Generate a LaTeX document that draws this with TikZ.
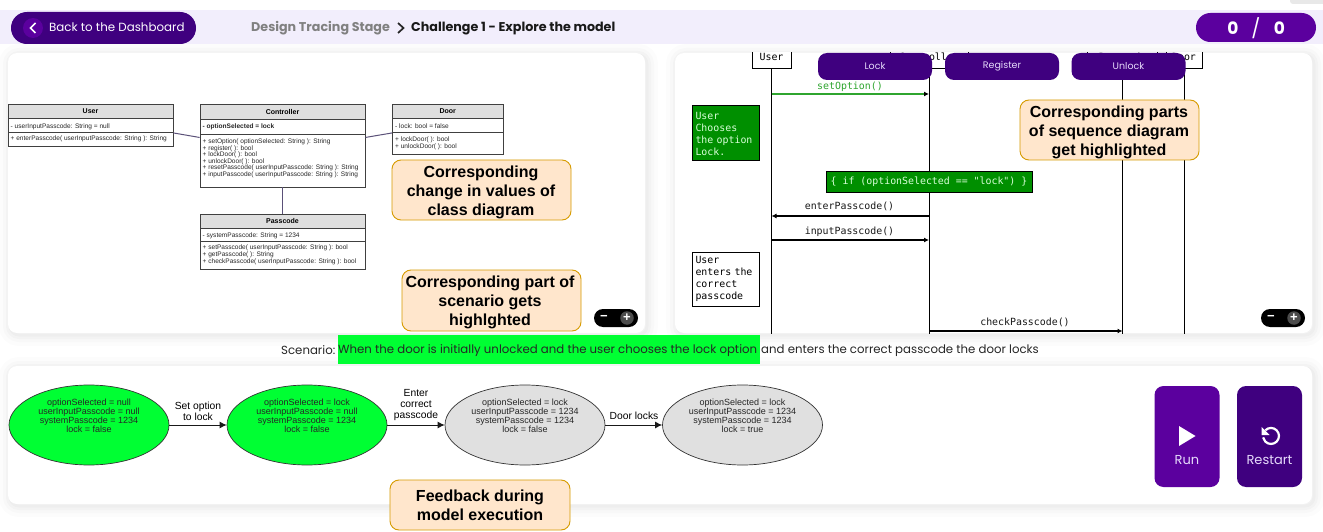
\documentclass[tikz,border=0pt]{standalone}
\usepackage{fontspec}
\setmainfont{Liberation Sans}
\newfontfamily\popfont{Poppins}
\newfontfamily\seqfont{DejaVu Sans Mono}
\usetikzlibrary{arrows.meta,shapes.geometric}
\definecolor{deepPurple}{HTML}{3F007F}
\definecolor{runPurple}{HTML}{5B009E}
\definecolor{bandTint}{HTML}{F2EEFC}
\definecolor{softLilac}{HTML}{E6DAFB}
\definecolor{noteFill}{HTML}{FFE6CC}
\definecolor{noteEdge}{HTML}{D79B00}
\definecolor{liveGreen}{HTML}{00FF33}
\definecolor{darkGreen}{HTML}{008F00}
\definecolor{stateGrey}{HTML}{E0E0E0}
\definecolor{headGrey}{HTML}{DFDFDF}
\definecolor{linkPurple}{HTML}{5A5078}
\definecolor{setGreen}{HTML}{2FA52F}
\tikzset{
    softShadow/.style={
        preaction={draw=black, draw opacity=.010, line width=22, transform canvas={xshift=2pt, yshift=-2pt}},
        preaction={draw=black, draw opacity=.014, line width=14, transform canvas={xshift=2pt, yshift=-2pt}},
        preaction={draw=black, draw opacity=.018, line width=8, transform canvas={xshift=2pt, yshift=-2pt}},
        preaction={draw=black, draw opacity=.02, line width=3, transform canvas={xshift=2pt, yshift=-2pt}}},
    panelStyle/.style={rectangle, fill=white, rounded corners=9, softShadow, inner sep=0},
    topButton/.style={rectangle, fill=deepPurple, rounded corners=9, minimum width=114, minimum height=27, inner sep=0, text=softLilac, font=\popfont\fontsize{9.5}{11}\selectfont},
    runButton/.style={rectangle, rounded corners=9, minimum width=65, minimum height=101, inner sep=0},
    buttonText/.style={inner sep=0, text=softLilac, font=\popfont\fontsize{13}{15}\selectfont},
    noteStyle/.style={rectangle, draw=noteEdge, fill=noteFill, line width=.9, rounded corners=9, minimum width=179, inner sep=0},
    noteText/.style={inner sep=0, align=center, text=black, font=\bfseries\fontsize{16}{19}\selectfont},
    classHead/.style={rectangle, draw=black!75, fill=headGrey, line width=.9, inner sep=0, font=\bfseries\fontsize{7}{8}\selectfont},
    classBody/.style={rectangle, draw=black!75, fill=white, line width=.9, inner sep=0},
    classText/.style={inner sep=0, align=left, anchor=north west, text=black!85, font=\fontsize{6.55}{6.5}\selectfont},
    classWide/.style={classText, font=\fontsize{6.55}{7}\selectfont},
    linkStyle/.style={draw=linkPurple, line width=1},
    stateBody/.style={ellipse, draw=black!80, line width=.7, minimum width=160, minimum height=80, inner sep=0},
    stateText/.style={inner sep=0, align=center, text=black!85, font=\fontsize{9}{9}\selectfont},
    edgeText/.style={inner sep=0, align=center, font=\fontsize{10.3}{11}\selectfont},
    edgeStyle/.style={-{Latex[length=7,width=7]}, line width=1, draw=black!90},
    seqBox/.style={rectangle, draw=black, fill=white, line width=1, inner sep=0, align=left, font=\seqfont\fontsize{9.9}{12}\selectfont},
    seqText/.style={inner sep=0, text=black!90, font=\seqfont\fontsize{9.9}{12}\selectfont},
    seqArrow/.style={-{Latex[length=5,width=5,black]}, line width=1.1, draw=black},
    lifeLine/.style={draw=black, line width=1},
    zoomPill/.style={rectangle, fill=black, rounded corners=9, minimum width=44, minimum height=18, inner sep=0},
    zoomDot/.style={circle, fill=black!70, minimum size=13.5, inner sep=0, text=white, font=\bfseries\fontsize{13}{13}\selectfont},
    zoomMark/.style={inner sep=0, text=white, font=\bfseries\fontsize{13}{13}\selectfont}
}
\begin{document}
\begin{tikzpicture}[x=1pt, y=-1pt]
    \useasboundingbox (0,0) rectangle (1323,532);
    \fill[white] (0,0) rectangle (1323,532);
    \fill[black!9, rounded corners=3] (1290,-4) rectangle (1330,4);

    % top band
    \node[rectangle, fill=bandTint, minimum width=1323, minimum height=34, inner sep=0] (topBand) at (661.5,27) {};
    \node[rectangle, fill=deepPurple, rounded corners=15.9, minimum width=185, minimum height=32, inner sep=0] (backButton) at (103.5,28) {};
    \node[circle, fill=runPurple, minimum size=20, inner sep=0] (backCircle) at (33,28) {};
    \draw[white, line width=1.6] (35.5,23) -- (30.5,28) -- (35.5,33);
    \node[inner sep=0, anchor=west, text=white!92!softLilac, font=\popfont\fontsize{11.85}{14}\selectfont] (backText) at (49,27.5) {Back to the Dashboard};
    \node[inner sep=0, anchor=west, text=black!50, font=\popfont\bfseries\fontsize{12.7}{14}\selectfont] (stageText) at (251,28.5) {Design Tracing Stage};
    \draw[black!85, line width=1.7] (398,23) -- (403.5,28) -- (398,33);
    \node[inner sep=0, anchor=west, text=black!90, font=\popfont\bfseries\fontsize{12.7}{14}\selectfont] (challengeText) at (411,28.5) {Challenge 1 - Explore the model};
    \node[rectangle, fill=runPurple, rounded corners=14.4, minimum width=120, minimum height=29, inner sep=0] (scorePill) at (1256,27.5) {};
    \node[inner sep=0, text=white, font=\popfont\bfseries\fontsize{17}{19}\selectfont] (scoreLeft) at (1233,28) {0};
    \node[inner sep=0, text=white, font=\popfont\fontsize{19}{19}\selectfont] (scoreBar) at (1256,28) {/};
    \node[inner sep=0, text=white, font=\popfont\bfseries\fontsize{17}{19}\selectfont] (scoreRight) at (1279.5,28) {0};

    % panels
    \node[panelStyle, minimum width=637, minimum height=280] (classPanel) at (326.5,193) {};
    \node[panelStyle, minimum width=637, minimum height=280] (seqPanel) at (993.5,193) {};
    \node[panelStyle, minimum width=1304, minimum height=138] (statePanel) at (660,435) {};

    % class diagram
    \node[classHead, minimum width=165, minimum height=14] (user_0) at (90.5,111.5) {User};
    \node[classBody, minimum width=165, minimum height=14] (user_1) at (90.5,125.5) {};
    \node[classBody, minimum width=165, minimum height=13.5] (user_2) at (90.5,139.25) {};
    \node[classText] (user_1t) at (10.5,123.5) {- userInputPasscode: String = null};
    \node[classText] (user_2t) at (10.5,135.5) {+ enterPasscode( userInputPasscode: String ): String};

    \node[classHead, minimum width=165, minimum height=14.5] (ctrl_0) at (282.5,111.75) {Controller};
    \node[classBody, minimum width=165, minimum height=15] (ctrl_1) at (282.5,126.5) {};
    \node[classBody, minimum width=165, minimum height=53] (ctrl_2) at (282.5,160.5) {};
    \node[classText, font=\bfseries\fontsize{6.55}{6.5}\selectfont] (ctrl_1t) at (202.5,124) {- optionSelected = lock};
    \node[classText] (ctrl_2t) at (202.5,139) {+ setOption( optionSelected: String ): String\\+ register( ): bool\\+ lockDoor( ): bool\\+ unlockDoor( ): bool\\+ resetPasscode( userInputPasscode: String ): String\\+ inputPasscode( userInputPasscode: String ): String};

    \node[classHead, minimum width=110.5, minimum height=14] (door_0) at (447.75,111.5) {Door};
    \node[classBody, minimum width=110.5, minimum height=14] (door_1) at (447.75,125.5) {};
    \node[classBody, minimum width=110.5, minimum height=21.5] (door_2) at (447.75,143.25) {};
    \node[classText] (door_1t) at (395,123.5) {- lock: bool = false};
    \node[classWide] (door_2t) at (395,136.5) {+ lockDoor( ): bool\\+ unlockDoor( ): bool};

    \node[classHead, minimum width=165, minimum height=14.5] (pass_0) at (282.5,221.25) {Passcode};
    \node[classBody, minimum width=165, minimum height=13] (pass_1) at (282.5,235) {};
    \node[classBody, minimum width=165, minimum height=28] (pass_2) at (282.5,255.5) {};
    \node[classText] (pass_1t) at (202.5,232.5) {- systemPasscode: String = 1234};
    \node[classWide] (pass_2t) at (202.5,245) {+ setPasscode( userInputPasscode: String ): bool\\+ getPasscode( ): String\\+ checkPasscode( userInputPasscode: String ): bool};

    \draw[linkStyle] (user_1.south east) -- ([yshift=-3pt]ctrl_1.south west);
    \draw[linkStyle] ([yshift=-3pt]ctrl_1.south east) -- (door_1.south west);
    \draw[linkStyle] (ctrl_2.south) -- (pass_0.north);

    % sequence diagram
    \begin{scope}
        \clip (675,53) rectangle (1312,333);
        \node[seqBox, minimum width=39, minimum height=24] (seq_user) at (771.5,57) {User};
        \node[seqBox, minimum width=78, minimum height=24] (seq_ctrl) at (929,57) {Controller};
        \node[seqBox, minimum width=70, minimum height=24] (seq_pass) at (1122.5,57) {Passcode};
        \node[seqBox, minimum width=36, minimum height=24] (seq_door) at (1184,57) {Door};
        \coordinate (user_end) at (771.5,345);
        \coordinate (ctrl_end) at (929,345);
        \coordinate (pass_end) at (1122.5,345);
        \coordinate (door_end) at (1184,345);
        \draw[lifeLine] (seq_user.south) -- (user_end);
        \draw[lifeLine] (seq_ctrl.south) -- (ctrl_end);
        \draw[lifeLine] (seq_pass.south) -- (pass_end);
        \draw[lifeLine] (seq_door.south) -- (door_end);

        \coordinate (opt_a) at (771.5,94);
        \coordinate (opt_b) at (929,94);
        \coordinate (ent_a) at (929,216);
        \coordinate (ent_b) at (771.5,216);
        \coordinate (inp_a) at (771.5,240);
        \coordinate (inp_b) at (929,240);
        \coordinate (chk_a) at (929,331);
        \coordinate (chk_b) at (1122.5,331);
        \draw[seqArrow, draw=setGreen] (opt_a) -- (opt_b);
        \draw[seqArrow] (ent_a) -- (ent_b);
        \draw[seqArrow] (inp_a) -- (inp_b);
        \draw[seqArrow] (chk_a) -- (chk_b);
        \node[seqText, text=setGreen] (opt_t) at (850,86.5) {setOption()};
        \node[seqText] (ent_t) at (849.5,206.5) {enterPasscode()};
        \node[seqText] (inp_t) at (849.5,231.5) {inputPasscode()};
        \node[seqText] (chk_t) at (1025,322.5) {checkPasscode()};

        \node[seqBox, fill=darkGreen, text=green!15, minimum width=67, minimum height=55, text width=60] (opt_note) at (725.5,133.5) {User\\Chooses\\the option\\Lock.};
        \node[seqBox, fill=darkGreen, text=green!15, minimum width=206, minimum height=20, align=center] (if_note) at (929,182) {\{ if (optionSelected == "lock") \}};
        \node[seqBox, minimum width=67, minimum height=54, text width=60] (pw_note) at (725.5,279) {User\\enters the\\correct\\passcode};
    \end{scope}

    \node[topButton] (lockButton) at (875,66.5) {Lock};
    \node[topButton] (registerButton) at (1002,66.5) {Register};
    \node[topButton] (unlockButton) at (1128.5,66.5) {Unlock};

    % zoom controls
    \node[zoomPill] (zoomLeft) at (616,318) {};
    \node[zoomMark] (zoomLeftMinus) at (604,318) {\textminus};
    \node[zoomDot] (zoomLeftPlus) at (627,318) {+};
    \node[zoomPill] (zoomRight) at (1283,318) {};
    \node[zoomMark] (zoomRightMinus) at (1271,318) {\textminus};
    \node[zoomDot] (zoomRightPlus) at (1294,318) {+};

    % scenario
    \node[rectangle, fill=liveGreen, minimum width=422, minimum height=29, inner sep=0] (scenBar) at (549,349.5) {};
    \node[inner sep=0, anchor=west, text=black!85, font=\popfont\fontsize{11.75}{13}\selectfont] (scenLabel) at (281,350.5) {Scenario:};
    \node[inner sep=0, anchor=west, text=black!85, font=\popfont\fontsize{11.75}{13}\selectfont] (scenLive) at (338,350.5) {When the door is initially unlocked and the user chooses the lock option};
    \node[inner sep=0, anchor=west, text=black!85, font=\popfont\fontsize{11.75}{13}\selectfont] (scenRest) at (761,350.5) {and enters the correct passcode the door locks};

    % model execution
    \node[stateBody, fill=liveGreen] (state_1) at (89,425) {};
    \node[stateBody, fill=liveGreen] (state_2) at (307,425) {};
    \node[stateBody, fill=stateGrey] (state_3) at (525,425) {};
    \node[stateBody, fill=stateGrey] (state_4) at (742.5,425) {};
    \node[stateText] (state_1t) at (89,415.5) {optionSelected = null\\userInputPasscode = null\\systemPasscode = 1234\\lock = false};
    \node[stateText] (state_2t) at (307,415.5) {optionSelected = lock\\userInputPasscode = null\\systemPasscode = 1234\\lock = false};
    \node[stateText] (state_3t) at (525,415.5) {optionSelected = lock\\userInputPasscode = 1234\\systemPasscode = 1234\\lock = false};
    \node[stateText] (state_4t) at (742.5,415.5) {optionSelected = lock\\userInputPasscode = 1234\\systemPasscode = 1234\\lock = true};
    \draw[edgeStyle] (state_1) -- (state_2);
    \draw[edgeStyle] (state_2) -- (state_3);
    \draw[edgeStyle] (state_3) -- (state_4);
    \node[edgeText] (edge_1t) at (198,411) {Set option\\to lock};
    \node[edgeText] (edge_2t) at (416,405.5) {Enter\\correct\\passcode};
    \node[edgeText] (edge_3t) at (634,415.5) {Door locks};

    % buttons
    \node[runButton, fill=runPurple] (runButton) at (1187,436.5) {};
    \node[runButton, fill=deepPurple] (restartButton) at (1269.5,436.5) {};
    \fill[white] (1179,426) -- (1195.5,436) -- (1179,446) -- cycle;
    \draw[white, line width=2.2] (1265.3,430.3) arc[start angle=225, end angle=530, radius=8];
    \fill[white] (1261.5,427) -- (1261.5,435) -- (1269.5,435) -- cycle;
    \node[buttonText] (runText) at (1187,460.5) {Run};
    \node[buttonText] (restartText) at (1269.5,460.5) {Restart};

    % callouts
    \node[noteStyle, minimum height=60] (note_class) at (481.5,190) {};
    \node[noteText] (note_class_t) at (481,192) {Corresponding\\change in values of\\class diagram};
    \node[noteStyle, minimum height=61] (note_scen) at (491.5,300.5) {};
    \node[noteText] (note_scen_t) at (490,302.5) {Corresponding part of\\scenario gets\\highlghted};
    \node[noteStyle, minimum height=60] (note_seq) at (1109.5,130) {};
    \node[noteText] (note_seq_t) at (1109,132) {Corresponding parts\\of sequence diagram\\get highlighted};
    \node[noteStyle, minimum width=180, minimum height=50] (note_run) at (480,505) {};
    \node[noteText] (note_run_t) at (480,505) {Feedback during\\model execution};
\end{tikzpicture}
\end{document}
